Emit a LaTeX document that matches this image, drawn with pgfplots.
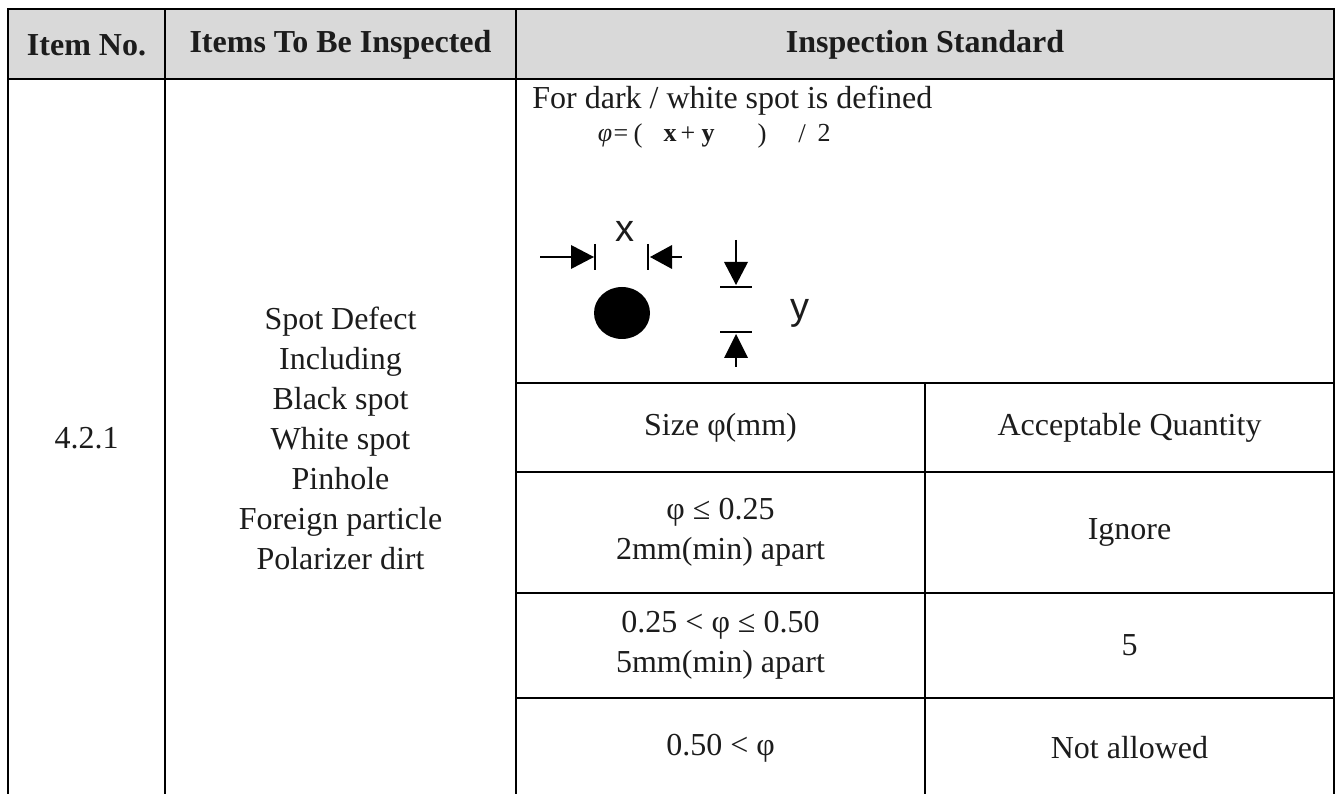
\documentclass[border=0pt]{standalone}
\usepackage{pgfplots}
\pgfplotsset{compat=1.18}
\usepackage{fontspec}
\setmainfont{Liberation Serif}
\newfontfamily\arial{Liberation Sans}
\definecolor{hdr}{HTML}{D9D9D9}
\definecolor{txt}{HTML}{1C1C1C}
\begin{document}
\begin{tikzpicture}[every node/.style={font=\fontsize{16}{20}\selectfont, inner sep=0pt, text=txt}]
\begin{axis}[scale only axis, width=669pt, height=397pt,
  xmin=0, xmax=1338, ymin=0, ymax=794, y dir=reverse,
  hide axis, clip=false]
\path (axis cs:0,0) rectangle (axis cs:1338,794);
% header background
\fill[hdr] (axis cs:8,9) rectangle (axis cs:1334,79);
% grid lines
\addplot[black, line width=1.3pt, line cap=rect] coordinates {(8,9) (1334,9)};
\addplot[black, line width=1.3pt, line cap=rect] coordinates {(8,79) (1334,79)};
\addplot[black, line width=1.3pt] coordinates {(516,383) (1334,383)};
\addplot[black, line width=1.3pt] coordinates {(516,472) (1334,472)};
\addplot[black, line width=1.3pt] coordinates {(516,593) (1334,593)};
\addplot[black, line width=1.3pt] coordinates {(516,698) (1334,698)};
\addplot[black, line width=1.3pt] coordinates {(8,9) (8,794)};
\addplot[black, line width=1.3pt] coordinates {(165,9) (165,794)};
\addplot[black, line width=1.3pt] coordinates {(516,9) (516,794)};
\addplot[black, line width=1.3pt] coordinates {(1334,9) (1334,794)};
\addplot[black, line width=1.3pt] coordinates {(925,383) (925,794)};
% header text
\node[font=\fontsize{16}{20}\selectfont\bfseries] at (axis cs:86.5,45) {Item No.};
\node[font=\fontsize{16}{20}\selectfont\bfseries] at (axis cs:340.5,45) {Items To Be Inspected};
\node[font=\fontsize{16}{20}\selectfont\bfseries] at (axis cs:925,45) {Inspection Standard};
% body
\node at (axis cs:86.5,438) {4.2.1};
\node[align=center] at (axis cs:340.5,438) {Spot Defect\\Including\\Black spot\\White spot\\Pinhole\\Foreign particle\\Polarizer dirt};
\node[anchor=base west] at (axis cs:532,109) {For dark / white spot is defined};
% formula
\node[anchor=base, font=\fontsize{13}{14}\selectfont\itshape] at (axis cs:605,142) {φ};
\node[anchor=base, font=\fontsize{13}{14}\selectfont] at (axis cs:621,142) {=};
\node[anchor=base, font=\fontsize{13.5}{14}\selectfont] at (axis cs:638,143) {(};
\node[anchor=base, font=\fontsize{13}{14}\selectfont\bfseries] at (axis cs:670,142) {x};
\node[anchor=base, font=\fontsize{13}{14}\selectfont] at (axis cs:688,142) {+};
\node[anchor=base, font=\fontsize{13}{14}\selectfont\bfseries] at (axis cs:708,142) {y};
\node[anchor=base, font=\fontsize{13.5}{14}\selectfont] at (axis cs:762,143) {)};
\node[anchor=base, font=\fontsize{13.5}{14}\selectfont] at (axis cs:802,143) {/};
\node[anchor=base, font=\fontsize{13}{14}\selectfont] at (axis cs:824,142) {2};
% diagram
\node[anchor=base, font=\fontsize{19}{20}\selectfont\arial] at (axis cs:625,242) {x};
\node[anchor=base, font=\fontsize{19}{20}\selectfont\arial] at (axis cs:800,320) {y};
\draw[black, line width=0.75pt] (axis cs:540,257) -- (axis cs:572,257);
\fill[black] (axis cs:571,245) -- (axis cs:571,269) -- (axis cs:594,257) -- cycle;
\draw[black, line width=1.3pt] (axis cs:595,244) -- (axis cs:595,270);
\draw[black, line width=1.3pt] (axis cs:648,244) -- (axis cs:648,270);
\fill[black] (axis cs:650,257) -- (axis cs:672,245) -- (axis cs:672,269) -- cycle;
\draw[black, line width=0.75pt] (axis cs:671,257) -- (axis cs:682,257);
\draw[black, line width=0.75pt] (axis cs:736,240) -- (axis cs:736,263);
\fill[black] (axis cs:724,262) -- (axis cs:748,262) -- (axis cs:736,285) -- cycle;
\draw[black, line width=1.3pt] (axis cs:720,287) -- (axis cs:752,287);
\draw[black, line width=1.3pt] (axis cs:720,332) -- (axis cs:752,332);
\fill[black] (axis cs:736,334) -- (axis cs:724,358) -- (axis cs:748,358) -- cycle;
\draw[black, line width=0.75pt] (axis cs:736,357) -- (axis cs:736,367);
\fill[black] (axis cs:622,313) ellipse [x radius=14pt, y radius=13pt];
% subtable
\node at (axis cs:720.5,428) {Size φ(mm)};
\node at (axis cs:1129.5,428) {Acceptable Quantity};
\node[align=center] at (axis cs:720.5,532.5) {φ ≤ 0.25\\2mm(min) apart};
\node at (axis cs:1129.5,532.5) {Ignore};
\node[align=center] at (axis cs:720.5,645.5) {0.25 < φ ≤ 0.50\\5mm(min) apart};
\node at (axis cs:1129.5,645.5) {5};
\node at (axis cs:720.5,748) {0.50 < φ};
\node at (axis cs:1129.5,748) {Not allowed};
\end{axis}
\end{tikzpicture}
\end{document}
